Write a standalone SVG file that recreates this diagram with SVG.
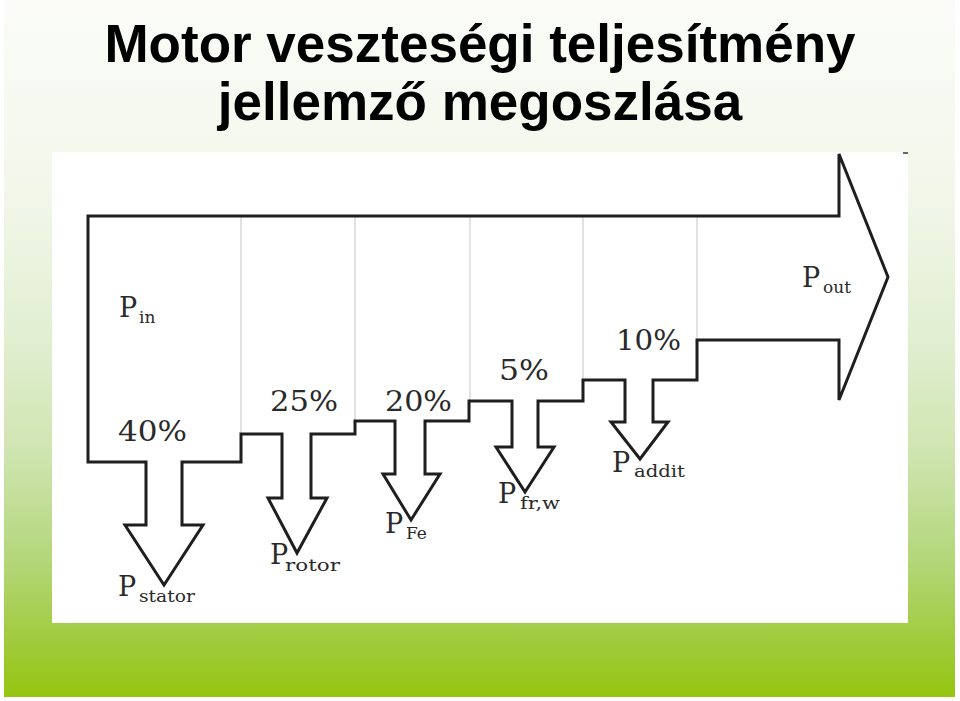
<svg xmlns="http://www.w3.org/2000/svg" width="960" height="701" viewBox="0 0 960 701">
<defs>
<linearGradient id="bg" x1="0" y1="0" x2="0" y2="1">
<stop offset="0" stop-color="#fbfcf8"/>
<stop offset="0.28" stop-color="#f2f7ea"/>
<stop offset="0.5" stop-color="#e0eecf"/>
<stop offset="0.65" stop-color="#cfe5b0"/>
<stop offset="0.8" stop-color="#b4d77c"/>
<stop offset="0.92" stop-color="#a0cb3c"/>
<stop offset="1" stop-color="#95c510"/>
</linearGradient>
<style>
.title{font-family:"Liberation Sans",Arial,sans-serif;font-weight:bold;font-size:53px;fill:#000;text-anchor:middle}
.ln{fill:none;stroke:#1e1e1e;stroke-width:3;stroke-linejoin:miter}
.div{stroke:#cfcfcf;stroke-width:1.2}
.lbl{font-family:"DejaVu Serif","Liberation Serif",serif;fill:#2a2a2a}
.big{font-size:27px}
.sub{font-size:17px}
</style>
</defs>
<rect x="0" y="0" width="960" height="701" fill="#ffffff"/>
<rect x="4" y="0" width="951" height="697" fill="url(#bg)"/>
<rect x="52" y="152" width="856" height="471" fill="#ffffff"/>
<text class="title" x="480" y="62">Motor veszteségi teljesítmény</text>
<text class="title" x="480" y="120">jellemző megoszlása</text>

<g id="dividers">
<line class="div" x1="241" y1="216" x2="241" y2="434"/>
<line class="div" x1="355" y1="216" x2="355" y2="421"/>
<line class="div" x1="470" y1="216" x2="470" y2="401"/>
<line class="div" x1="583" y1="216" x2="583" y2="381"/>
<line class="div" x1="697" y1="216" x2="697" y2="340"/>
</g>

<g id="flow">
<path class="ln" d="M888,277 L839,154 L839,216 L88,216 L88,462 L146,462 L146,525 L125,525 L164,585 L203,525 L182,525 L182,462 L241,462 L241,434 L282,434 L282,498 L268,498 L297,553 L327,498 L311,498 L311,434 L355,434 L355,421 L395,421 L395,474 L383,474 L411,520 L440,474 L425,474 L425,421 L469,421 L469,401 L512,401 L512,447 L496,447 L525,492 L554,447 L538,447 L538,401 L583,401 L583,380 L625,380 L625,422 L611,422 L640,459 L668,422 L653,422 L653,380 L697,380 L697,340 L839,340 L839,400 Z"/>
<line x1="903" y1="153" x2="908" y2="153" stroke="#333" stroke-width="1.5"/>
</g>

<g id="node-pin">
<text class="lbl big" x="119" y="317">P</text><text class="lbl sub" x="139" y="323">in</text>
</g>
<g id="node-pout">
<text class="lbl big" x="802" y="287">P</text><text class="lbl sub" x="823" y="293">out</text>
</g>
<g id="node-pstator">
<text class="lbl big" x="118" y="596">P</text><text class="lbl sub" x="139" y="602" textLength="56" lengthAdjust="spacingAndGlyphs">stator</text>
</g>
<g id="node-protor">
<text class="lbl big" x="270" y="564">P</text><text class="lbl sub" x="285" y="571" textLength="55" lengthAdjust="spacingAndGlyphs">rotor</text>
</g>
<g id="node-pfe">
<text class="lbl big" x="385" y="533">P</text><text class="lbl sub" x="406" y="539">Fe</text>
</g>
<g id="node-pfrw">
<text class="lbl big" x="498" y="503">P</text><text class="lbl sub" x="520" y="509" textLength="40" lengthAdjust="spacingAndGlyphs">fr,w</text>
</g>
<g id="node-paddit">
<text class="lbl big" x="612" y="472">P</text><text class="lbl sub" x="634" y="477" textLength="51" lengthAdjust="spacingAndGlyphs">addit</text>
</g>

<g id="percentages">
<text class="lbl big" x="118" y="441" textLength="69" lengthAdjust="spacingAndGlyphs">40%</text>
<text class="lbl big" x="270" y="411" textLength="68" lengthAdjust="spacingAndGlyphs">25%</text>
<text class="lbl big" x="385" y="411" textLength="67" lengthAdjust="spacingAndGlyphs">20%</text>
<text class="lbl big" x="499" y="380" textLength="50" lengthAdjust="spacingAndGlyphs">5%</text>
<text class="lbl big" x="616" y="350" textLength="65" lengthAdjust="spacingAndGlyphs">10%</text>
</g>
</svg>
